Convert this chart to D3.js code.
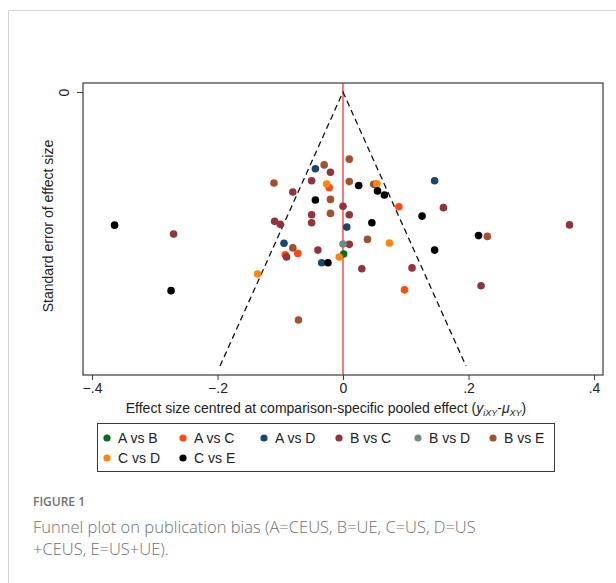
<!DOCTYPE html>
<html>
<head>
<meta charset="utf-8">
<script src="https://cdn.jsdelivr.net/npm/d3@7"></script>
<style>
  body { margin: 0; background: #fff; }
  #wrapper { position: relative; width: 616px; height: 583px; overflow: hidden; }
</style>
</head>
<body>
<div id="wrapper"></div>
<script>
// comparisons and their marker colours
const groups = ["A vs B", "A vs C", "A vs D", "B vs C", "B vs D", "B vs E", "C vs D", "C vs E"];
const groupColors = ["#0b6b1e", "#ff4b12", "#1a476f", "#90353b", "#6e8e84", "#a0522d", "#ff8410", "#000000"];

// effect (centred) and standard error, one array per comparison
const effAB = [0.001];
const seAB = [0.0591];
const effAC = [-0.092, -0.072, -0.022, 0.089, 0.098];
const seAC = [0.0594, 0.0589, 0.0349, 0.0419, 0.0722];
const effAD = [-0.094, -0.034, 0.006, -0.044, 0.146];
const seAD = [0.0552, 0.0623, 0.0493, 0.0280, 0.0324];
const effBC = [-0.270, -0.080, -0.109, -0.100, -0.090, -0.040, 0.010, -0.050, -0.050, 0.000, 0.010, -0.050, -0.020, 0.030, 0.160, 0.110, 0.361, 0.220];
const seBC = [0.0518, 0.0365, 0.0472, 0.0483, 0.0602, 0.0577, 0.0556, 0.0448, 0.0477, 0.0417, 0.0448, 0.0324, 0.0293, 0.0645, 0.0422, 0.0642, 0.0485, 0.0707];
const effBD = [0.000];
const seBD = [0.0555];
const effBE = [-0.071, -0.110, -0.080, -0.020, -0.020, -0.030, 0.010, 0.010, 0.049, 0.039, 0.230];
const seBE = [0.0832, 0.0332, 0.0569, 0.0443, 0.0392, 0.0266, 0.0245, 0.0327, 0.0337, 0.0538, 0.0527];
const effCD = [-0.136, -0.006, -0.026, 0.054, 0.074];
const seCD = [0.0664, 0.0602, 0.0336, 0.0335, 0.0551];
const effCE = [-0.364, -0.274, -0.024, -0.044, 0.025, 0.055, 0.066, 0.126, 0.046, 0.146, 0.216];
const seCE = [0.0486, 0.0725, 0.0623, 0.0394, 0.0341, 0.0361, 0.0376, 0.0453, 0.0477, 0.0577, 0.0524];

const xTicks = [-0.4, -0.2, 0, 0.2, 0.4];
const yTicks = [0];
const seMax = 0.1;   // bottom of the pseudo 95% limits

const effAll = [effAB, effAC, effAD, effBC, effBD, effBE, effCD, effCE];
const seAll = [seAB, seAC, seAD, seBC, seBD, seBE, seCD, seCE];

function buildPlot() {
    const data = [];
    effAll.forEach((arr, g) => {
        arr.forEach((e, i) => data.push({ group: g, eff: e, se: seAll[g][i] }));
    });

    const dimension = { width: 616, height: 583 };
    const frame = { left: 83, right: 603, top: 83, bottom: 375 };

    const svg = d3.select("#wrapper").append("svg")
        .attr("width", dimension.width)
        .attr("height", dimension.height)
        .style("font-family", "'Liberation Sans', Arial, sans-serif");

    // card outline
    svg.append("path")
        .attr("d", "M8.5,583 V10.5 H616")
        .attr("fill", "none")
        .attr("stroke", "#d4d4d4")
        .attr("stroke-width", 1);

    const xScaler = d3.scaleLinear().domain([-0.4, 0.4]).range([92, 594]);
    const yScaler = d3.scaleLinear().domain([0, seMax]).range([92, 366]);

    // plot frame
    svg.append("rect")
        .attr("x", frame.left)
        .attr("y", frame.top)
        .attr("width", frame.right - frame.left)
        .attr("height", frame.bottom - frame.top)
        .attr("fill", "white")
        .attr("stroke", "#3a3a3a")
        .attr("stroke-width", 1.2);

    // pooled effect line
    svg.append("line")
        .attr("x1", xScaler(0)).attr("x2", xScaler(0))
        .attr("y1", frame.top).attr("y2", frame.bottom)
        .attr("stroke", "#ee1111")
        .attr("stroke-width", 1.1);

    // pseudo 95% limits
    const funnel = d3.line()
        .x(d => xScaler(d[0]))
        .y(d => yScaler(d[1]));
    svg.append("path")
        .attr("d", funnel([[-1.96 * seMax, seMax], [0, 0], [1.96 * seMax, seMax]]))
        .attr("fill", "none")
        .attr("stroke", "#111")
        .attr("stroke-width", 1.3)
        .attr("stroke-dasharray", "6,4");

    // points
    svg.append("g").selectAll("circle")
        .data(data)
        .join("circle")
        .attr("cx", d => xScaler(d.eff))
        .attr("cy", d => yScaler(d.se))
        .attr("r", 3.8)
        .attr("fill", d => groupColors[d.group]);

    // x axis
    const xAxis = svg.append("g")
        .attr("transform", `translate(0,${frame.bottom})`)
        .call(d3.axisBottom(xScaler).tickValues(xTicks)
            .tickFormat(d => d === 0 ? "0" : d3.format(".1f")(d).replace("0.", ".")).tickSize(5).tickPadding(3));
    xAxis.select(".domain").remove();
    xAxis.selectAll("line").attr("stroke", "#3a3a3a");
    xAxis.selectAll("text").attr("font-size", 14).attr("font-family", "'Liberation Sans', Arial, sans-serif").attr("fill", "#222");

    // y axis
    const yAxis = svg.append("g")
        .attr("transform", `translate(${frame.left},0)`)
        .call(d3.axisLeft(yScaler).tickValues(yTicks).tickSize(6).tickFormat(d3.format("d")));
    yAxis.select(".domain").remove();
    yAxis.selectAll("line").attr("stroke", "#3a3a3a");
    yAxis.selectAll("text")
        .attr("font-size", 14)
        .attr("font-family", "'Liberation Sans', Arial, sans-serif")
        .attr("fill", "#222")
        .attr("x", 0).attr("dy", 0)
        .attr("text-anchor", "middle")
        .attr("transform", "translate(-18,0) rotate(-90)")
        .attr("dominant-baseline", "middle");

    // axis titles
    svg.append("text")
        .attr("transform", "translate(53,226) rotate(-90)")
        .attr("text-anchor", "middle")
        .attr("font-size", 14)
        .attr("fill", "#222")
        .text("Standard error of effect size");

    const xt = svg.append("text")
        .attr("x", 326)
        .attr("y", 413)
        .attr("text-anchor", "middle")
        .attr("font-size", 14)
        .attr("fill", "#222");
    xt.append("tspan").text("Effect size centred at comparison-specific pooled effect (");
    xt.append("tspan").attr("font-style", "italic").text("y");
    xt.append("tspan").attr("font-style", "italic").attr("font-size", 9).attr("dy", 3).text("iXY");
    xt.append("tspan").attr("dy", -3).text("-");
    xt.append("tspan").attr("font-style", "italic").text("μ");
    xt.append("tspan").attr("font-style", "italic").attr("font-size", 9).attr("dy", 3).text("XY");
    xt.append("tspan").attr("dy", -3).text(")");

    // legend
    svg.append("rect")
        .attr("x", 97.5).attr("y", 423.5)
        .attr("width", 457).attr("height", 48)
        .attr("fill", "white")
        .attr("stroke", "#3a3a3a")
        .attr("stroke-width", 1);
    const colX = [107, 183, 264, 339, 418, 493];
    const legend = svg.append("g").selectAll("g")
        .data(groups)
        .join("g")
        .attr("transform", (d, i) => `translate(${colX[i % 6]},${438 + Math.floor(i / 6) * 20})`);
    legend.append("circle").attr("r", 3.6).attr("fill", (d, i) => groupColors[i]);
    legend.append("text")
        .attr("x", 11).attr("dy", "0.35em")
        .attr("font-size", 14)
        .attr("fill", "#222")
        .text(d => d);

    // figure caption
    svg.append("text")
        .attr("x", 33).attr("y", 506)
        .attr("font-family", "'Open Sans', 'Noto Sans', sans-serif")
        .attr("font-size", 12)
        .attr("font-weight", 600)
        .attr("fill", "#707070")
        .text("FIGURE 1");
    const cap = svg.append("text")
        .attr("font-family", "'Open Sans', 'Noto Sans', sans-serif")
        .attr("font-size", 16.5)
        .attr("font-weight", 300)
        .attr("fill", "#707070");
    cap.append("tspan").attr("x", 33).attr("y", 533)
        .text("Funnel plot on publication bias (A=CEUS, B=UE, C=US, D=US");
    cap.append("tspan").attr("x", 33).attr("y", 555)
        .text("+CEUS, E=US+UE).");
}

buildPlot();
</script>
</body>
</html>
